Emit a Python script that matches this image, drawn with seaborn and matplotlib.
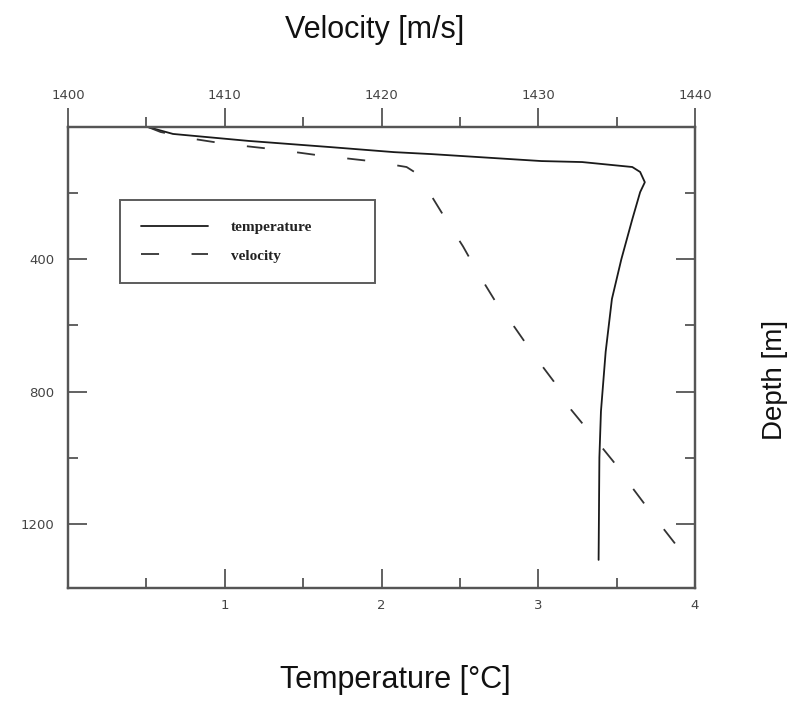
import matplotlib
matplotlib.use("Agg")
import matplotlib.pyplot as plt
import seaborn as sns
import numpy as np

# Temperature profile (solid)
temp_c = [0.51, 0.67, 1.15, 1.68, 2.08, 2.32, 3.02, 3.28, 3.60, 3.65, 3.68, 3.65, 3.60, 3.53, 3.47, 3.43, 3.40, 3.39, 3.385]
temp_depth = [0, 21, 42, 61, 76, 82, 103, 106, 121, 136, 167, 197, 279, 400, 520, 680, 860, 1000, 1309]

# Sound velocity profile (dashed)
vel_ms = [1405.1, 1405.9, 1408.0, 1410.2, 1413.1, 1415.9, 1419.3, 1421.6, 1422.1, 1423.0, 1424.1,
          1425.2, 1426.2, 1427.3, 1428.5, 1429.7, 1431.0, 1432.1, 1433.5, 1434.8, 1436.1, 1437.4,
          1438.7, 1439.0]
vel_depth = [0, 15, 36, 52, 67, 85, 103, 121, 136, 194, 279, 361, 445, 530, 606, 688, 770, 855,
             936, 1012, 1097, 1179, 1258, 1279]

temp_ticks = [1, 2, 3, 4]
vel_ticks = [1400, 1410, 1420, 1430, 1440]
depth_ticks = [400, 800, 1200]

sns.set_style("white")
plt.rcParams['font.family'] = ['DejaVu Sans']

fig = plt.figure(figsize=(7.96, 7.02), dpi=100)
ax = fig.add_axes([68/796, 1-588/702, (695-68)/796, (588-127)/702])
ax2 = ax.twiny()

spine_c = "#555555"
sns.lineplot(x=temp_c, y=temp_depth, sort=False, estimator=None, ax=ax,
             color="#1a1a1a", linewidth=1.3, label="temperature", legend=False)
sns.lineplot(x=vel_ms, y=vel_depth, sort=False, estimator=None, ax=ax2,
             color="#333333", linewidth=1.3, label="velocity", legend=False)
ax2.lines[0].set_linestyle((0, (10, 18)))

ax.set_xlim(0, 4)
ax2.set_xlim(1400, 1440)
ax.set_ylim(1394, 0)

ax.set_xticks(temp_ticks)
ax.set_xticks([0.5, 1.5, 2.5, 3.5], minor=True)
ax.set_yticks(depth_ticks)
ax.set_yticks([200, 600, 1000], minor=True)
ax2.set_xticks(vel_ticks)
ax2.set_xticks([1405, 1415, 1425, 1435], minor=True)

lab_c = "#444444"
ax.tick_params(axis='x', which='major', direction='in', length=14, width=1.3, color=spine_c,
               labelsize=9.5, labelcolor=lab_c, pad=8)
ax.tick_params(axis='x', which='minor', direction='in', length=7, width=1.3, color=spine_c)
ax.tick_params(axis='y', which='major', direction='in', length=14, width=1.3, color=spine_c,
               labelsize=9.5, labelcolor=lab_c, right=True, left=True, pad=10)
ax.tick_params(axis='y', which='minor', direction='in', length=7, width=1.3, color=spine_c,
               right=True, left=True)
ax2.tick_params(axis='x', which='major', direction='out', length=14, width=1.3, color=spine_c,
                labelsize=9.5, labelcolor=lab_c, pad=4)
ax2.tick_params(axis='x', which='minor', direction='out', length=7, width=1.3, color=spine_c)

for a in (ax, ax2):
    for s in a.spines.values():
        s.set_color(spine_c)
        s.set_linewidth(1.6)
    a.set_xlabel("")
    a.set_ylabel("")
    a.grid(False)

handles = [ax.lines[0], ax2.lines[0]]
x0 = (120 - 68) / 627
w = (375 - 120) / 627
ytop = 1 - (200 - 127) / 461
leg = ax.legend(handles, ["temperature", "velocity"], loc='upper left',
                bbox_to_anchor=(x0, ytop - 0.2, w, 0.2), mode='expand', frameon=True, fancybox=False,
                prop={'family': 'Liberation Serif', 'weight': 'bold', 'size': 11},
                handlelength=4.4, handletextpad=1.5, labelspacing=0.95, borderpad=1.35,
                borderaxespad=0)
leg.get_frame().set_edgecolor("#333333")
leg.get_frame().set_linewidth(1.4)
for t in leg.get_texts():
    t.set_color("#222222")

fig.text(375/796, 1-30/702, "Velocity [m/s]", ha='center', va='center',
         fontsize=22, family='Liberation Sans', color='#111111')
fig.text(395/796, 1-680/702, "Temperature [°C]", ha='center', va='center',
         fontsize=22, family='Liberation Sans', color='#111111')
fig.text(775/796, 1-380/702, "Depth [m]", ha='center', va='center', rotation=90,
         fontsize=20, family='Liberation Sans', color='#111111')

fig.savefig("out.png", dpi=100, facecolor='white')
